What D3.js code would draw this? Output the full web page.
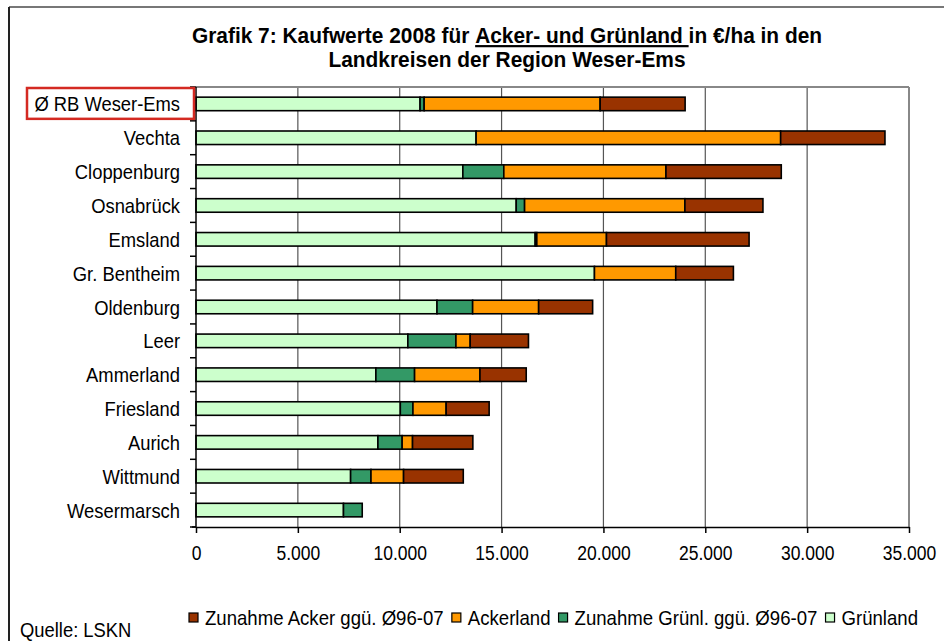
<!DOCTYPE html>
<html>
<head>
<meta charset="utf-8">
<script src="https://cdn.jsdelivr.net/npm/d3@7"></script>
<style>
body { margin: 0; background: #fff; }
text { font-family: "Liberation Sans", Arial, sans-serif; fill: #000; }
</style>
</head>
<body>
<div id="chart-area"></div>
<script>
// Landkreise (top to bottom)
var categories = ["Ø RB Weser-Ems", "Vechta", "Cloppenburg", "Osnabrück", "Emsland", "Gr. Bentheim",
  "Oldenburg", "Leer", "Ammerland", "Friesland", "Aurich", "Wittmund", "Wesermarsch"];

// stacked segments in €/ha
var gruenland     = [11000, 13750, 13100, 15720, 16650, 19560, 11830, 10400, 8830, 10030, 8930, 7590, 7240];
var zunahmeGruenl = [200, 0, 2010, 410, 80, 0, 1750, 2360, 1900, 620, 1190, 1000, 920];
var ackerland     = [8640, 14950, 7960, 7870, 3420, 3990, 3240, 700, 3210, 1630, 510, 1600, 0];
var zunahmeAcker  = [4170, 5120, 5660, 3830, 7000, 2830, 2650, 2860, 2270, 2110, 2960, 2930, 0];

var xTicks = [0, 5000, 10000, 15000, 20000, 25000, 30000, 35000];

var seriesKeys = ["gruenland", "zunahmeGruenl", "ackerland", "zunahmeAcker"];
var seriesNames = {
  zunahmeAcker: "Zunahme Acker ggü. Ø96-07",
  ackerland: "Ackerland",
  zunahmeGruenl: "Zunahme Grünl. ggü. Ø96-07",
  gruenland: "Grünland"
};
var colors = {
  gruenland: "#ccffcc",
  zunahmeGruenl: "#339966",
  ackerland: "#ff9900",
  zunahmeAcker: "#993300"
};

var W = 944, H = 641;
var plot = { left: 196, top: 87, right: 909, bottom: 527 };

// squeeze text horizontally (the original font is a narrow one)
function condense(sel, sx) {
  sel.each(function(){
    var t = d3.select(this);
    var tx = +t.attr('x') || 0, ty = +t.attr('y') || 0;
    t.attr('x', 0).attr('y', 0)
      .attr('transform', 'translate(' + tx + ',' + ty + ') scale(' + sx + ',1)');
  });
}

var svg = d3.select('#chart-area').append('svg')
  .attr('width', W)
  .attr('height', H);

// outer chart frame (only top + left visible)
svg.append('line').attr('x1', 9).attr('y1', 7).attr('x2', W).attr('y2', 7)
  .attr('stroke', '#777').attr('stroke-width', 2);
svg.append('line').attr('x1', 9).attr('y1', 7).attr('x2', 9).attr('y2', H)
  .attr('stroke', '#222').attr('stroke-width', 2);

// title
var title = svg.append('text')
  .attr('x', 507)
  .attr('y', 43)
  .attr('text-anchor', 'middle')
  .attr('font-size', '22px')
  .attr('font-weight', 'bold')
  .style('white-space', 'pre');
title.append('tspan').text('Grafik 7: Kaufwerte 2008 für ');
title.append('tspan').attr('text-decoration', 'underline').text('Acker- und Grünland ');
title.append('tspan').text('in €/ha in den');
var title2 = svg.append('text')
  .attr('x', 507)
  .attr('y', 67)
  .attr('text-anchor', 'middle')
  .attr('font-size', '22px')
  .attr('font-weight', 'bold')
  .text('Landkreisen der Region Weser-Ems');
condense(title, 0.95);
condense(title2, 0.95);

// scales
var x = d3.scaleLinear()
  .domain([0, 35000])
  .range([plot.left, plot.right]);

var y = d3.scaleBand()
  .domain(categories)
  .range([plot.top, plot.bottom])
  .paddingInner(0.6)
  .paddingOuter(0.3);

// gridlines
svg.append('g').selectAll('line')
  .data(xTicks.slice(1, -1))
  .enter().append('line')
  .attr('x1', function(d){ return x(d); })
  .attr('x2', function(d){ return x(d); })
  .attr('y1', plot.top)
  .attr('y2', plot.bottom)
  .attr('stroke', '#555')
  .attr('stroke-width', 1.2);

// plot border top + right
svg.append('line').attr('x1', plot.left).attr('x2', plot.right).attr('y1', plot.top).attr('y2', plot.top)
  .attr('stroke', '#888').attr('stroke-width', 2);
svg.append('line').attr('x1', plot.right).attr('x2', plot.right).attr('y1', plot.top).attr('y2', plot.bottom)
  .attr('stroke', '#888').attr('stroke-width', 2);

// data table for the stack
var table = categories.map(function(c, i){
  return {
    cat: c,
    gruenland: gruenland[i],
    zunahmeGruenl: zunahmeGruenl[i],
    ackerland: ackerland[i],
    zunahmeAcker: zunahmeAcker[i]
  };
});

var stacked = d3.stack().keys(seriesKeys)(table);

var layers = svg.append('g').selectAll('g')
  .data(stacked)
  .enter().append('g')
  .attr('fill', function(d){ return colors[d.key]; });

layers.selectAll('rect')
  .data(function(d){ return d.filter(function(s){ return s[1] - s[0] > 0; }); })
  .enter().append('rect')
  .attr('x', function(d){ return x(d[0]); })
  .attr('width', function(d){ return x(d[1]) - x(d[0]); })
  .attr('y', function(d){ return y(d.data.cat); })
  .attr('height', y.bandwidth())
  .attr('stroke', '#000')
  .attr('stroke-width', 1.6);

// x axis
var deLocale = d3.formatLocale({ decimal: ',', thousands: '.', grouping: [3], currency: ['', '€'] });
var xAxisCall = d3.axisBottom(x)
  .tickValues(xTicks)
  .tickSize(6)
  .tickSizeOuter(0)
  .tickFormat(deLocale.format(',d'));
var xaxisGroup = svg.append('g')
  .attr('class', 'x-axis')
  .attr('transform', 'translate(0,' + plot.bottom + ')')
  .call(xAxisCall);
xaxisGroup.attr('font-family', null).attr('font-size', null);
xaxisGroup.select('.domain').attr('stroke', '#000').attr('stroke-width', 1.5);
xaxisGroup.selectAll('.tick line').attr('stroke', '#000').attr('stroke-width', 1.5);
var tickTexts = xaxisGroup.selectAll('.tick text')
  .attr('y', 19)
  .attr('dy', '0.71em')
  .attr('font-size', '20px');
condense(tickTexts, 0.875);
xaxisGroup.append('line')
  .attr('x1', plot.left - 4).attr('x2', plot.left)
  .attr('stroke', '#000').attr('stroke-width', 1.5);

// y axis: line, ticks at band boundaries, labels
svg.append('line')
  .attr('x1', plot.left).attr('x2', plot.left)
  .attr('y1', plot.top).attr('y2', plot.bottom)
  .attr('stroke', '#000').attr('stroke-width', 1.5);
svg.append('g').selectAll('line')
  .data(d3.range(categories.length + 1))
  .enter().append('line')
  .attr('x1', plot.left - 6).attr('x2', plot.left)
  .attr('y1', function(i){ return plot.top + i * y.step(); })
  .attr('y2', function(i){ return plot.top + i * y.step(); })
  .attr('stroke', '#000').attr('stroke-width', 1.5);

var catLabels = svg.append('g').selectAll('text')
  .data(categories)
  .enter().append('text')
  .attr('x', 180)
  .attr('y', function(d){ return y(d) + y.bandwidth() / 2; })
  .attr('dy', '0.36em')
  .attr('text-anchor', 'end')
  .attr('font-size', '21px')
  .text(function(d){ return d; });
condense(catLabels, 0.875);

// red box round the regional average
svg.append('rect')
  .attr('x', 27)
  .attr('y', plot.top + 1)
  .attr('width', 167)
  .attr('height', y.step() - 3)
  .attr('fill', 'none')
  .attr('stroke', '#d42a22')
  .attr('stroke-width', 2.5);

// legend (Excel order: reversed stack)
var legend = svg.append('g').attr('transform', 'translate(189,618)');
var lx = 0;
seriesKeys.slice().reverse().forEach(function(k){
  var item = legend.append('g').attr('transform', 'translate(' + lx + ',0)');
  item.append('rect')
    .attr('x', 0).attr('y', -5)
    .attr('width', 9).attr('height', 9)
    .attr('fill', colors[k])
    .attr('stroke', '#000')
    .attr('stroke-width', 1.2);
  var t = item.append('text')
    .attr('x', 16)
    .attr('y', 0)
    .attr('dy', '0.36em')
    .attr('font-size', '20px')
    .text(seriesNames[k]);
  var w = t.node().getComputedTextLength() * 0.93;
  condense(t, 0.93);
  lx += 16 + w + 8;
});

// source
var src = svg.append('text')
  .attr('x', 20)
  .attr('y', 637)
  .attr('font-size', '20px')
  .text('Quelle: LSKN');
condense(src, 0.92);
</script>
</body>
</html>
